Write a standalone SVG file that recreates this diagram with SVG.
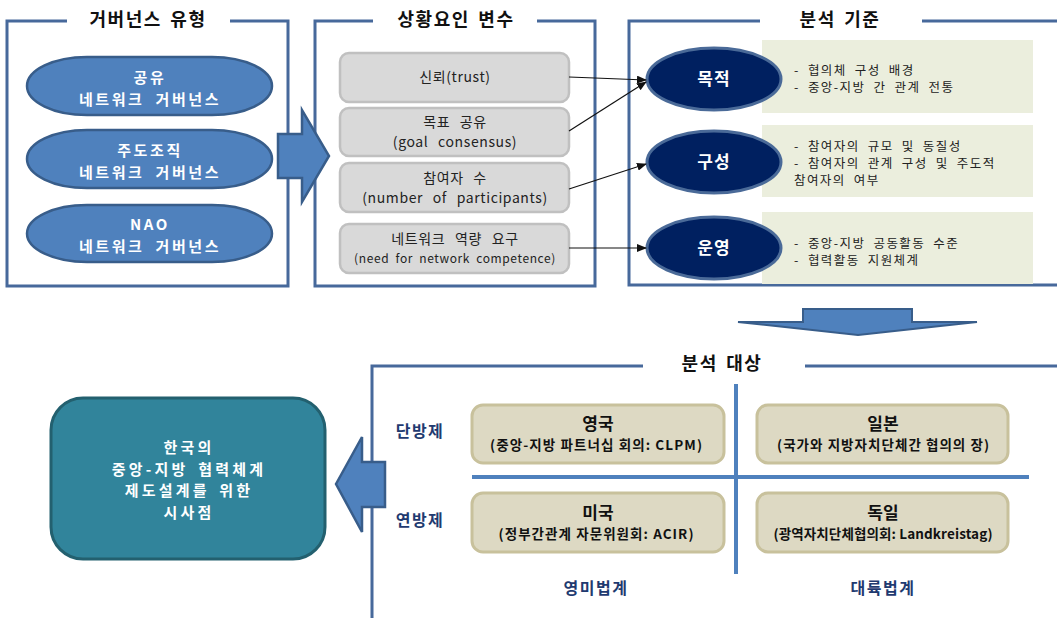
<svg xmlns="http://www.w3.org/2000/svg" width="1057" height="618" viewBox="0 0 1057 618">
<style>
.frame{fill:none;stroke:#47699b;stroke-width:3}
.title{font-family:"Noto Sans CJK KR","Noto Sans",sans-serif;font-weight:bold;font-size:18px;fill:#111;text-anchor:middle;letter-spacing:1.5px;word-spacing:3px}
.pill{fill:#4f81bd;stroke:#385d8a;stroke-width:2.5}
.pilltxt{font-family:"Noto Sans CJK KR",sans-serif;font-weight:bold;font-size:15px;fill:#fff;text-anchor:middle;letter-spacing:2.6px;word-spacing:5px}
.gbox{fill:#d9d9d9;stroke:#c0c0c0;stroke-width:2.5}
.gtxt{font-family:"Noto Sans CJK KR",sans-serif;font-size:14px;fill:#222;text-anchor:middle;letter-spacing:0.6px;word-spacing:6px}
.ell{fill:#002060;stroke:#4a6a98;stroke-width:3}
.elltxt{font-family:"Noto Sans CJK KR",sans-serif;font-weight:bold;font-size:17px;fill:#fff;text-anchor:middle;letter-spacing:1px}
.green{fill:#ebeedd}
.ltxt{font-family:"Noto Sans CJK KR",sans-serif;font-size:12.5px;fill:#222;letter-spacing:1.4px;word-spacing:4px}
.bigarrow{fill:#4f81bd;stroke:#385d8a;stroke-width:2.5}
.tan{fill:#ddd9c3;stroke:#c8c19c;stroke-width:3}
.tanh{font-family:"Noto Sans CJK KR",sans-serif;font-weight:bold;font-size:17px;fill:#111;text-anchor:middle}
.tans{font-family:"Noto Sans CJK KR",sans-serif;font-weight:bold;font-size:13.5px;fill:#111;text-anchor:middle}
.grid{stroke:#4f81bd;stroke-width:4}
.axis{font-family:"Noto Sans CJK KR",sans-serif;font-weight:bold;font-size:16px;fill:#1f3a70;text-anchor:middle;letter-spacing:1.5px}
.conn{stroke:#111;stroke-width:1.2;fill:none;marker-end:url(#ah)}
.teal{font-family:"Noto Sans CJK KR",sans-serif;font-weight:bold;font-size:15px;fill:#fff;text-anchor:middle;letter-spacing:3.2px;word-spacing:3px}
</style>
<defs>
<marker id="ah" markerWidth="10" markerHeight="8" refX="9" refY="4" orient="auto" markerUnits="userSpaceOnUse">
<path d="M0,0 L10,4 L0,8 Z" fill="#111"/>
</marker>
</defs>
<rect width="1057" height="618" fill="#fff"/>

<!-- frames -->
<g id="frame-types">
<path class="frame" d="M67,21 H7 V286 H288 V21 H230"/>
<text class="title" x="148" y="26">거버넌스 유형</text>
</g>
<g id="frame-vars">
<path class="frame" d="M373,21 H315 V286 H595 V21 H537"/>
<text class="title" x="456" y="26">상황요인 변수</text>
</g>
<g id="frame-criteria">
<path class="frame" d="M760,21 H629 V285 H1057 M922,21 H1057"/>
<text class="title" x="840" y="26">분석 기준</text>
</g>

<!-- governance types -->
<g id="type-shared">
<rect class="pill" x="27" y="57" width="245" height="58" rx="60" ry="29"/>
<text class="pilltxt" x="150" y="82.5">공유</text>
<text class="pilltxt" x="150" y="104.5">네트워크 거버넌스</text>
</g>
<g id="type-lead">
<rect class="pill" x="27" y="130" width="245" height="58" rx="60" ry="29"/>
<text class="pilltxt" x="150" y="155.5">주도조직</text>
<text class="pilltxt" x="150" y="177.5">네트워크 거버넌스</text>
</g>
<g id="type-nao">
<rect class="pill" x="27" y="205" width="245" height="57" rx="60" ry="28.5"/>
<text class="pilltxt" x="150" y="229.5">NAO</text>
<text class="pilltxt" x="150" y="251.5">네트워크 거버넌스</text>
</g>

<g id="arrow-right">
<polygon class="bigarrow" points="278,134 302,134 302,110 329,156 302,202 302,178 278,178"/>
</g>

<!-- variables -->
<g id="var-trust">
<rect class="gbox" x="340" y="53" width="229" height="49" rx="9"/>
<text class="gtxt" x="455" y="82">신뢰(trust)</text>
</g>
<g id="var-goal">
<rect class="gbox" x="340" y="108" width="229" height="48" rx="9"/>
<text class="gtxt" x="455" y="127">목표 공유</text>
<text class="gtxt" x="455" y="147">(goal consensus)</text>
</g>
<g id="var-num">
<rect class="gbox" x="340" y="163" width="229" height="49" rx="9"/>
<text class="gtxt" x="455" y="183">참여자 수</text>
<text class="gtxt" x="455" y="202.5">(number of participants)</text>
</g>
<g id="var-comp">
<rect class="gbox" x="340" y="224" width="229" height="49" rx="9"/>
<text class="gtxt" x="455" y="244">네트워크 역량 요구</text>
<text class="gtxt" x="455" y="263" style="font-size:12px;word-spacing:3px">(need for network competence)</text>
</g>

<!-- criteria -->
<g id="crit-purpose">
<rect class="green" x="762" y="40" width="271" height="73"/>
<ellipse class="ell" cx="714" cy="79" rx="67" ry="31"/>
<text class="elltxt" x="714" y="85">목적</text>
<text class="ltxt" x="794" y="75">- 협의체 구성 배경</text>
<text class="ltxt" x="794" y="92">- 중앙-지방 간 관계 전통</text>
</g>
<g id="crit-composition">
<rect class="green" x="762" y="125" width="271" height="72"/>
<ellipse class="ell" cx="714" cy="162" rx="67" ry="31"/>
<text class="elltxt" x="714" y="168">구성</text>
<text class="ltxt" x="794" y="151">- 참여자의 규모 및 동질성</text>
<text class="ltxt" x="794" y="168">- 참여자의 관계 구성 및 주도적</text>
<text class="ltxt" x="794" y="185">참여자의 여부</text>
</g>
<g id="crit-operation">
<rect class="green" x="762" y="212" width="271" height="72"/>
<ellipse class="ell" cx="714" cy="248" rx="67" ry="31"/>
<text class="elltxt" x="714" y="254">운영</text>
<text class="ltxt" x="794" y="248">- 중앙-지방 공동활동 수준</text>
<text class="ltxt" x="794" y="265">- 협력활동 지원체계</text>
</g>

<g id="connectors">
<line class="conn" x1="569" y1="77" x2="646" y2="80"/>
<line class="conn" x1="569" y1="131" x2="646" y2="82"/>
<line class="conn" x1="569" y1="189" x2="646" y2="164"/>
<line class="conn" x1="569" y1="248" x2="646" y2="248"/>
</g>

<g id="arrow-down">
<polygon class="bigarrow" points="803,309 912,309 912,322 977,322 858,335 738,322 803,322" style="stroke-width:2"/>
</g>

<!-- bottom frame -->
<g id="frame-targets">
<path class="frame" d="M643,366 H372 V618 M805,366 H1057"/>
<text class="title" x="722" y="370">분석 대상</text>
</g>
<g id="grid">
<line class="grid" x1="736" y1="384" x2="736" y2="574"/>
<line class="grid" x1="472" y1="477" x2="1029" y2="477"/>
</g>
<g id="target-uk">
<rect class="tan" x="472" y="405" width="252" height="58" rx="11"/>
<text class="tanh" x="598" y="430">영국</text>
<text class="tans" x="596" y="450" textLength="212" lengthAdjust="spacing">(중앙-지방 파트너십 회의: CLPM)</text>
</g>
<g id="target-jp">
<rect class="tan" x="757" y="405" width="251" height="58" rx="11"/>
<text class="tanh" x="883" y="430">일본</text>
<text class="tans" x="883" y="450" textLength="212" lengthAdjust="spacing">(국가와 지방자치단체간 협의의 장)</text>
</g>
<g id="target-us">
<rect class="tan" x="472" y="493" width="252" height="59" rx="11"/>
<text class="tanh" x="598" y="519">미국</text>
<text class="tans" x="596" y="539" textLength="195" lengthAdjust="spacing">(정부간관계 자문위원회: ACIR)</text>
</g>
<g id="target-de">
<rect class="tan" x="757" y="493" width="251" height="59" rx="11"/>
<text class="tanh" x="883" y="519">독일</text>
<text class="tans" x="883" y="539" textLength="219" lengthAdjust="spacing">(광역자치단체협의회: Landkreistag)</text>
</g>
<g id="axis-labels">
<text class="axis" x="420" y="437">단방제</text>
<text class="axis" x="420" y="526">연방제</text>
<text class="axis" x="596" y="594">영미법계</text>
<text class="axis" x="883" y="594">대륙법계</text>
</g>

<g id="arrow-left">
<polygon class="bigarrow" points="336,484 362,437 362,462 385,462 385,507 362,507 362,532"/>
</g>

<g id="implications">
<rect x="51" y="398" width="274" height="161" rx="32" fill="#31849b" stroke="#23606f" stroke-width="3"/>
<text class="teal" x="189" y="453">한국의</text>
<text class="teal" x="189" y="474.5">중앙-지방 협력체계</text>
<text class="teal" x="189" y="496">제도설계를 위한</text>
<text class="teal" x="189" y="517.5">시사점</text>
</g>
</svg>
